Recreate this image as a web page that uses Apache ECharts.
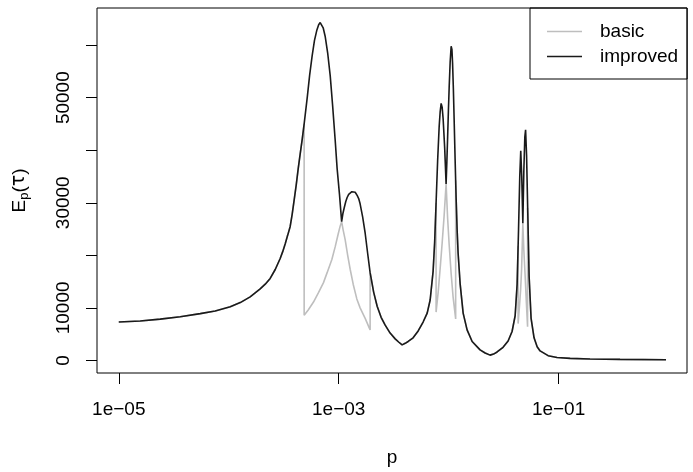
<!DOCTYPE html>
<html>
<head>
<meta charset="utf-8">
<script src="https://cdn.jsdelivr.net/npm/echarts@6/dist/echarts.min.js"></script>
<style>html,body{margin:0;padding:0;background:#fff}#c{width:693px;height:472px}</style>
</head>
<body>
<div id="c"></div>
<script>
// x values are log10(p); y values are E_p(tau)
const improvedLogP = [-5.000,-4.805,-4.623,-4.441,-4.259,-4.123,-3.986,-3.895,-3.805,-3.714,-3.668,-3.623,-3.577,-3.532,-3.509,-3.486,-3.464,-3.441,-3.423,-3.405,-3.386,-3.368,-3.350,-3.332,-3.314,-3.286,-3.264,-3.241,-3.220,-3.198,-3.182,-3.168,-3.155,-3.141,-3.123,-3.100,-3.077,-3.055,-3.032,-3.014,-2.993,-2.973,-2.962,-2.950,-2.936,-2.923,-2.909,-2.895,-2.880,-2.865,-2.850,-2.832,-2.818,-2.805,-2.782,-2.759,-2.736,-2.714,-2.682,-2.650,-2.614,-2.577,-2.532,-2.486,-2.455,-2.423,-2.395,-2.368,-2.323,-2.277,-2.232,-2.195,-2.168,-2.141,-2.127,-2.114,-2.100,-2.086,-2.077,-2.068,-2.059,-2.050,-2.036,-2.023,-2.016,-2.009,-2.002,-1.995,-1.986,-1.977,-1.970,-1.964,-1.957,-1.950,-1.941,-1.932,-1.923,-1.914,-1.895,-1.868,-1.832,-1.786,-1.714,-1.668,-1.623,-1.591,-1.559,-1.505,-1.459,-1.423,-1.395,-1.377,-1.364,-1.353,-1.344,-1.335,-1.325,-1.316,-1.307,-1.300,-1.291,-1.280,-1.268,-1.250,-1.223,-1.195,-1.168,-1.095,-1.014,-0.895,-0.714,-0.441,-0.023];
const improvedE = [7300,7500,7850,8300,8900,9400,10200,11000,12100,13600,14500,15600,17300,19400,20700,22200,23800,25500,27800,30500,33400,36500,39300,42000,45000,50000,54300,58000,60900,62900,63900,64300,64100,63300,61700,58500,54200,48500,42000,36500,31700,26400,27900,29000,30200,31000,31600,31900,32100,32200,32000,31400,30800,29800,27300,24200,20300,16700,13000,10300,8200,6700,5200,4100,3500,2950,3250,3600,4300,5600,7300,9000,11500,17000,22500,30000,38000,44500,47300,48900,48200,46000,40500,33600,37800,42500,47500,52000,56800,59800,59200,56500,51800,46000,38300,31000,25000,20500,14500,9000,5800,3600,2000,1400,1000,1200,1600,2500,3700,5500,8500,14500,25000,35000,39900,35000,26100,36000,42500,43900,39000,28000,16000,8000,4300,2600,1800,900,550,380,260,190,130];

// "basic" differs from "improved" only inside three windows
const basicALogP = [-3.314,-3.314,-3.277,-3.229,-3.186,-3.138,-3.105,-3.062,-3.032,-3.005,-2.986,-2.973,-2.959,-2.941,-2.918,-2.895,-2.868,-2.835,-2.805,-2.759,-2.714,-2.714];
const basicAE    = [45000,8600,9600,11100,12800,14800,16700,19200,21600,24000,25600,26400,24800,23000,20000,17300,14500,11700,10000,8000,5800,16700];
const basicBLogP = [-2.114,-2.114,-2.095,-2.077,-2.059,-2.041,-2.023,-2.009,-1.995,-1.977,-1.959,-1.936,-1.936];
const basicBE    = [30000,9200,13000,17500,22300,27500,33600,27000,22000,16500,12000,7900,34300];
const basicCLogP = [-1.368,-1.368,-1.355,-1.345,-1.336,-1.325,-1.316,-1.305,-1.294,-1.282,-1.282];
const basicCE    = [21800,7000,10500,13500,17500,26100,21000,16500,11500,6400,29000];

const xTicks = [-5, -3, -1];
const yTicks = [0, 10000, 20000, 30000, 40000, 50000, 60000];
const yLabels = [0, 10000, 30000, 50000];
const seriesNames = ['basic', 'improved'];

function pairs(xs, ys) { return xs.map((x, i) => [x, ys[i]]); }

function buildBasic() {
  const wins = [[basicALogP, basicAE], [basicBLogP, basicBE], [basicCLogP, basicCE]];
  const out = [];
  let w = 0;
  const n = improvedLogP.length;
  for (let i = 0; i < n; i++) {
    const x = improvedLogP[i];
    if (w < wins.length && x >= wins[w][0][0]) {
      const wx = wins[w][0], wy = wins[w][1];
      wx.forEach((xx, k) => out.push([xx, wy[k]]));
      const hi = wx[wx.length - 1];
      let j = i;
      while (j < n && improvedLogP[j] <= hi) j++;
      i = j - 1; w++;
      continue;
    }
    out.push([x, improvedE[i]]);
  }
  return out;
}

const FONT = 'Liberation Sans, Arial, Helvetica, sans-serif';
const FS = 19;

const chart = echarts.init(document.getElementById('c'), null, {renderer: 'canvas'});
chart.setOption({
  animation: false,
  backgroundColor: '#fff',
  textStyle: {fontFamily: FONT},
  grid: {left: 97, right: 6, top: 8, bottom: 93.5, show: true, borderColor: '#000', borderWidth: 1, backgroundColor: 'transparent'},
  legend: {
    orient: 'vertical', left: 530, top: 8,
    data: seriesNames,
    icon: 'path://M0,0H100V4H0Z',
    symbolKeepAspect: true,
    itemWidth: 35, itemHeight: 14, itemGap: 6,
    padding: [14, 9, 13, 17],
    borderColor: '#000', borderWidth: 1,
    textStyle: {fontSize: FS, color: '#000', fontFamily: FONT, padding: [0, 0, 0, 13], width: 78}
  },
  xAxis: {
    type: 'value', min: -5.198, max: 0.168,
    axisLine: {show: false, onZero: false},
    splitLine: {show: false},
    axisTick: {show: true, customValues: xTicks, length: 11, lineStyle: {color: '#000', width: 1}},
    axisLabel: {show: true, customValues: xTicks, margin: 27, fontSize: FS, color: '#000', fontFamily: FONT,
      formatter: v => '1e' + (v < 0 ? '\u2212' : '+') + String(Math.abs(Math.round(v))).padStart(2, '0')},
    name: 'p', nameLocation: 'middle', nameGap: 75,
    nameTextStyle: {fontSize: FS, color: '#000', fontFamily: FONT}
  },
  yAxis: {
    type: 'value', min: -2400, max: 67070,
    axisLine: {show: false, onZero: false},
    splitLine: {show: false},
    axisTick: {show: true, customValues: yTicks, length: 11, lineStyle: {color: '#000', width: 1}},
    axisLabel: {show: true, customValues: yLabels, rotate: 90, margin: 24, fontSize: FS, color: '#000', fontFamily: FONT,
      formatter: v => String(Math.round(v))},
    name: '{a|E}{b|p}{a|(}{t|\u03c4}{a|)}', nameLocation: 'middle', nameGap: 66, nameRotate: 90,
    nameTextStyle: {color: '#000', fontFamily: FONT, rich: {
      a: {fontSize: FS, color: '#000', fontFamily: FONT},
      t: {fontSize: FS, color: '#000', fontFamily: 'DejaVu Sans'},
      b: {fontSize: 13, color: '#000', fontFamily: FONT, padding: [10, 0, 0, 0]}
    }}
  },
  series: [
    {name: 'basic', type: 'line', data: buildBasic(), symbol: 'none', lineStyle: {color: '#bebebe', width: 1.6}, itemStyle: {color: '#bebebe'}, z: 2},
    {name: 'improved', type: 'line', data: pairs(improvedLogP, improvedE), symbol: 'none', lineStyle: {color: '#1a1a1a', width: 1.6}, itemStyle: {color: '#1a1a1a'}, z: 3}
  ]
});
</script>
</body>
</html>
